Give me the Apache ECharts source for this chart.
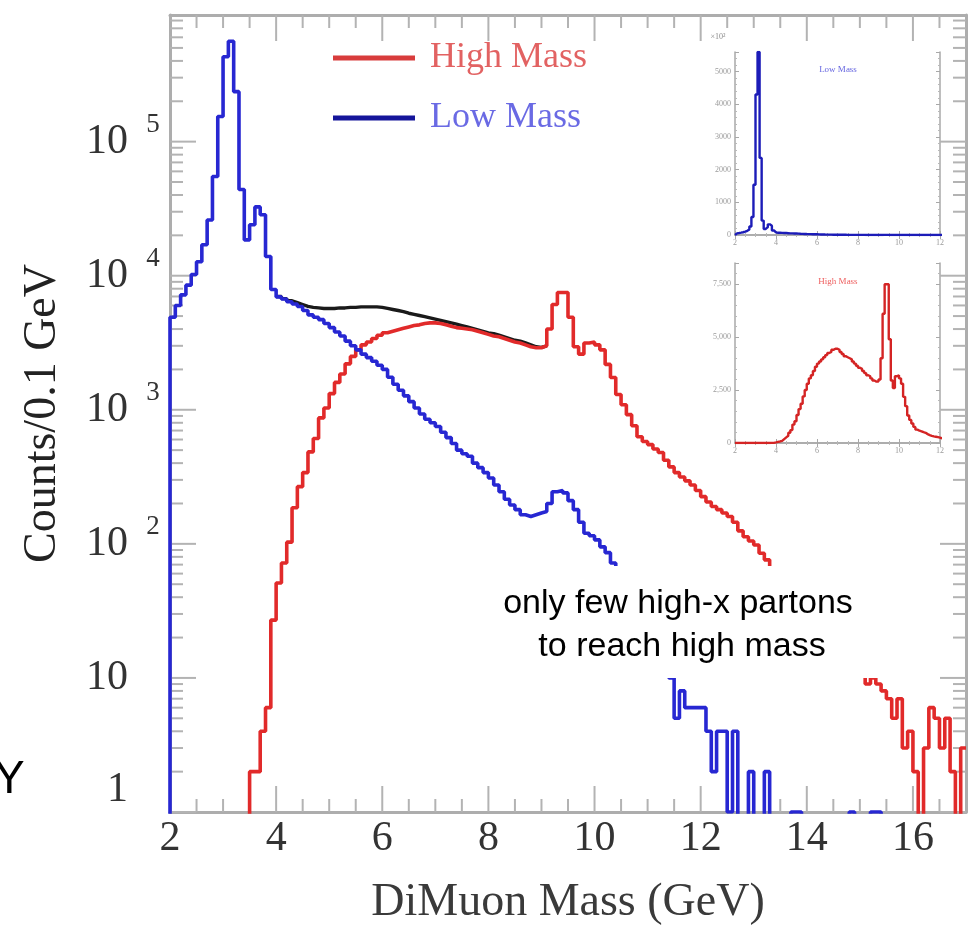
<!DOCTYPE html>
<html><head><meta charset="utf-8">
<script src="https://cdn.jsdelivr.net/npm/echarts@6/dist/echarts.min.js"></script>
<style>html,body{margin:0;padding:0;background:#fff}#c{width:974px;height:931px}</style>
</head><body><div id="c"></div>
<script>
// Bin edges (GeV), 0.1 GeV bins from 2.0 to 17.0
const massEdges = [
 2.0,2.1,2.2,2.3,2.4,2.5,2.6,2.7,2.8,2.9,
 3.0,3.1,3.2,3.3,3.4,3.5,3.6,3.7,3.8,3.9,
 4.0,4.1,4.2,4.3,4.4,4.5,4.6,4.7,4.8,4.9,
 5.0,5.1,5.2,5.3,5.4,5.5,5.6,5.7,5.8,5.9,
 6.0,6.1,6.2,6.3,6.4,6.5,6.6,6.7,6.8,6.9,
 7.0,7.1,7.2,7.3,7.4,7.5,7.6,7.7,7.8,7.9,
 8.0,8.1,8.2,8.3,8.4,8.5,8.6,8.7,8.8,8.9,
 9.0,9.1,9.2,9.3,9.4,9.5,9.6,9.7,9.8,9.9,
 10.0,10.1,10.2,10.3,10.4,10.5,10.6,10.7,10.8,10.9,
 11.0,11.1,11.2,11.3,11.4,11.5,11.6,11.7,11.8,11.9,
 12.0,12.1,12.2,12.3,12.4,12.5,12.6,12.7,12.8,12.9,
 13.0,13.1,13.2,13.3,13.4,13.5,13.6,13.7,13.8,13.9,
 14.0,14.1,14.2,14.3,14.4,14.5,14.6,14.7,14.8,14.9,
 15.0,15.1,15.2,15.3,15.4,15.5,15.6,15.7,15.8,15.9,
 16.0,16.1,16.2,16.3,16.4,16.5,16.6,16.7,16.8,16.9,
 17.0];

// Counts per 0.1 GeV bin (bin i spans massEdges[i]..massEdges[i+1])
const lowMassCounts = [
 4900,6000,7200,8500,10200,12700,17000,26000,55000,154000,
 430000,560000,236000,44000,18500,24000,32600,28500,13900,7900,
 6950,6700,6400,6150,5900,5500,5100,4900,4700,4400,
 4100,3800,3550,3250,3000,2800,2600,2450,2300,2150,
 2000,1750,1550,1400,1270,1150,1030,930,850,800,
 750,680,620,560,500,470,450,400,370,340,
 310,275,245,215,195,180,165,160,165,170,
 174,200,245,250,240,210,180,145,120,115,
 107,95,86,72,60,52,45,40,35,30,
 26,20,15,11,10,5,8,6,6,6,
 6,4,2,4,4,1,4,0,0,2,
 0,0,2,0,0,0,0,1,1,0,
 0,0,0,0,0,0,0,0,1,0,
 0,0,1,1,0,0,0,0,0,0,
 0,0,0,0,0,0,0,0,0,0];

const highMassCounts = [
 0,0,0,0,0,0,0,0,0,0,
 0,0,0,0,0,2,2,4,6,27,
 51,72,103,186,267,340,485,610,870,1030,
 1320,1600,1850,2200,2500,2800,3050,3200,3400,3600,
 3750,3850,3950,4050,4150,4250,4300,4400,4450,4450,
 4400,4300,4200,4100,4050,4000,3950,3850,3750,3650,
 3550,3500,3400,3300,3200,3150,3050,2950,2900,2900,
 3000,4000,6100,7500,7500,4900,2950,2600,3150,3200,
 3050,2800,2180,1740,1300,1090,920,760,630,580,
 550,510,480,420,375,340,315,295,275,250,
 225,205,190,180,170,160,145,125,113,105,
 98,85,76,66,60,55,50,45,40,36,
 32,29,26,24,21,19,17,15,14,12,
 11,9,10,9,8,7,5,7,3,4,
 2,0,3,6,5,3,5,2,0,3];

// Sum (black) where it is visible separately, bins 4.0 .. 9.0
const totalEdges = [
 4.0,4.1,4.2,4.3,4.4,4.5,4.6,4.7,4.8,4.9,
 5.0,5.1,5.2,5.3,5.4,5.5,5.6,5.7,5.8,5.9,
 6.0,6.1,6.2,6.3,6.4,6.5,6.6,6.7,6.8,6.9,
 7.0,7.1,7.2,7.3,7.4,7.5,7.6,7.7,7.8,7.9,
 8.0,8.1,8.2,8.3,8.4,8.5,8.6,8.7,8.8,8.9,
 9.0,9.1];
const totalCounts = [
 7000,6750,6500,6300,6100,5900,5800,5750,5700,5700,
 5700,5750,5750,5800,5800,5850,5850,5850,5850,5800,
 5700,5600,5500,5400,5250,5150,5050,4950,4850,4750,
 4650,4550,4450,4350,4250,4150,4050,3950,3850,3750,
 3700,3600,3500,3400,3300,3250,3150,3050,2950,2920,
 3000];

// Axis tick values
const xMajorTicks = [2,4,6,8,10,12,14,16];
const yMajorTicks = [1,10,100,1000,10000,100000];

const SERIF = "'Liberation Serif','DejaVu Serif',serif";
const SANS = "'Liberation Sans',Arial,sans-serif";
const FLOOR = 0.01; // empty bins fall below the log-axis floor

function histPoints(edges, counts, floorVal) {
  const pts = [[edges[0], floorVal]];
  for (let i = 0; i < counts.length; i++) {
    let v = counts[i];
    if (v <= 0) v = floorVal;
    pts.push([edges[i + 1], v]);
  }
  return pts;
}
function histPointsOpen(edges, counts) {
  const pts = [[edges[0], counts[0]]];
  for (let i = 0; i < counts.length; i++) pts.push([edges[i + 1], counts[i]]);
  return pts;
}

// ticks (axis decoration)
const tickData = [];
for (let v = 2.5; v < 17; v += 0.5) {
  const major = xMajorTicks.indexOf(v) >= 0 ? 1 : 0;
  tickData.push([v, 1, 0, major]);
}
for (let k = 0; k <= 5; k++) {
  for (let m = 1; m <= 9; m++) {
    const v = m * Math.pow(10, k);
    if (v > 880000) continue;
    tickData.push([2, v, 1, yMajorTicks.indexOf(v) >= 0 ? 1 : 0]);
  }
}

function renderTick(params, api) {
  const cs = params.coordSys;
  const kind = api.value(2), major = api.value(3);
  const len = major ? 26 : 13;
  const style = { stroke: '#b3b3b3', lineWidth: 2 };
  if (kind === 0) {
    const px = api.coord([api.value(0), 1])[0];
    return { type: 'group', children: [
      { type: 'line', shape: { x1: px, y1: cs.y + cs.height, x2: px, y2: cs.y + cs.height - len }, style },
      { type: 'line', shape: { x1: px, y1: cs.y, x2: px, y2: cs.y + len }, style }
    ]};
  }
  const py = api.coord([2, api.value(1)])[1];
  return { type: 'group', children: [
    { type: 'line', shape: { x1: cs.x, y1: py, x2: cs.x + len, y2: py }, style },
    { type: 'line', shape: { x1: cs.x + cs.width, y1: py, x2: cs.x + cs.width - len, y2: py }, style }
  ]};
}

const frame = { show: true, lineStyle: { color: '#adadad', width: 3 } };
const insetLine = { show: true, lineStyle: { color: '#a8a8a8', width: 1.5 } };
const insetTick = { show: true, inside: true, length: 4, lineStyle: { color: '#a8a8a8' } };
const insetMinor = { show: true, splitNumber: 4, length: 2, lineStyle: { color: '#b8b8b8' } };
const insetLabel = { fontFamily: SERIF, fontSize: 8, color: '#9a9a9a', margin: 4 };

const chart = echarts.init(document.getElementById('c'), null, { renderer: 'canvas' });
chart.setOption({
  animation: false,
  backgroundColor: '#fff',
  grid: [
    { left: 170, top: 15, width: 796, height: 797 },
    { left: 735, top: 52, width: 205, height: 183 },
    { left: 735, top: 263, width: 205, height: 180 }
  ],
  legend: {
    left: 328, top: 33, orient: 'vertical', icon: 'rect', itemWidth: 82, itemHeight: 5, itemGap: 20,
    selectedMode: false,
    textStyle: { fontFamily: SERIF, fontSize: 36, lineHeight: 40, padding: [0, 0, 0, 10] },
    data: [
      { name: 'High Mass', itemStyle: { color: '#d83c3c' }, textStyle: { color: '#e26262' } },
      { name: 'Low Mass', itemStyle: { color: '#15159a' }, textStyle: { color: '#6a6ae4' } }
    ]
  },
  xAxis: [
    { gridIndex: 0, type: 'value', min: 2, max: 17, interval: 2, position: 'bottom',
      axisLine: frame, axisTick: { show: false }, splitLine: { show: false },
      axisLabel: { fontFamily: SERIF, fontSize: 42, color: '#333', margin: 6, showMaxLabel: false },
      name: 'DiMuon Mass (GeV)', nameLocation: 'middle', nameGap: 68,
      nameTextStyle: { fontFamily: SERIF, fontSize: 46, color: '#3a3a3a' } },
    { gridIndex: 0, type: 'value', min: 2, max: 17, position: 'top',
      axisLine: frame, axisTick: { show: false }, axisLabel: { show: false }, splitLine: { show: false } },
    { gridIndex: 1, type: 'value', min: 2, max: 12, interval: 2, position: 'bottom',
      axisLine: insetLine, axisTick: insetTick, minorTick: insetMinor, splitLine: { show: false },
      axisLabel: insetLabel },
    { gridIndex: 1, type: 'value', min: 2, max: 12, interval: 2, position: 'top',
      axisLine: insetLine, axisTick: insetTick, minorTick: insetMinor, splitLine: { show: false },
      axisLabel: { show: false } },
    { gridIndex: 2, type: 'value', min: 2, max: 12, interval: 2, position: 'bottom',
      axisLine: insetLine, axisTick: insetTick, minorTick: insetMinor, splitLine: { show: false },
      axisLabel: insetLabel },
    { gridIndex: 2, type: 'value', min: 2, max: 12, interval: 2, position: 'top',
      axisLine: insetLine, axisTick: insetTick, minorTick: insetMinor, splitLine: { show: false },
      axisLabel: { show: false } }
  ],
  yAxis: [
    { gridIndex: 0, type: 'log', logBase: 10, min: 1, max: 880000, position: 'left',
      axisLine: frame, axisTick: { show: false }, splitLine: { show: false },
      axisLabel: {
        margin: 6, showMaxLabel: false,
        formatter: function (v) {
          const e = Math.round(Math.log10(v));
          if (e === 0) return '{one|1}{e| }';
          if (e === 1) return '{b|10}{e| }';
          return '{b|10}{e|' + e + '}';
        },
        rich: {
          b: { fontFamily: SERIF, fontSize: 42, color: '#333', lineHeight: 44 },
          one: { fontFamily: SERIF, fontSize: 42, color: '#333', lineHeight: 44, padding: [0, 0, 44, 0] },
          e: { fontFamily: SERIF, fontSize: 27, color: '#333', width: 22, align: 'left', padding: [0, 0, 34, 14] }
        }
      },
      name: 'Counts/0.1 GeV', nameLocation: 'middle', nameGap: 104, nameRotate: 90,
      nameTextStyle: { fontFamily: SERIF, fontSize: 46, color: '#222' } },
    { gridIndex: 0, type: 'log', logBase: 10, min: 1, max: 880000, position: 'right',
      axisLine: frame, axisTick: { show: false }, axisLabel: { show: false }, splitLine: { show: false } },
    { gridIndex: 1, type: 'value', min: 0, max: 560000, interval: 100000, position: 'left',
      axisLine: insetLine, axisTick: insetTick, minorTick: { show: true, splitNumber: 5, length: 2, lineStyle: { color: '#b8b8b8' } },
      splitLine: { show: false },
      axisLabel: Object.assign({}, insetLabel, { showMaxLabel: false, formatter: v => v === 0 ? '0' : String(v / 100) }) },
    { gridIndex: 1, type: 'value', min: 0, max: 560000, interval: 100000, position: 'right',
      axisLine: insetLine, axisTick: insetTick, minorTick: { show: true, splitNumber: 5, length: 2, lineStyle: { color: '#b8b8b8' } },
      splitLine: { show: false }, axisLabel: { show: false } },
    { gridIndex: 2, type: 'value', min: 0, max: 8500, interval: 2500, position: 'left',
      axisLine: insetLine, axisTick: insetTick, minorTick: { show: true, splitNumber: 5, length: 2, lineStyle: { color: '#b8b8b8' } },
      splitLine: { show: false },
      axisLabel: Object.assign({}, insetLabel, { showMaxLabel: false }) },
    { gridIndex: 2, type: 'value', min: 0, max: 8500, interval: 2500, position: 'right',
      axisLine: insetLine, axisTick: insetTick, minorTick: { show: true, splitNumber: 5, length: 2, lineStyle: { color: '#b8b8b8' } },
      splitLine: { show: false }, axisLabel: { show: false } }
  ],
  series: [
    { type: 'custom', name: 'ticks', xAxisIndex: 0, yAxisIndex: 0, silent: true, z: 1,
      renderItem: renderTick, data: tickData },
    { type: 'line', name: 'Total', xAxisIndex: 0, yAxisIndex: 0, step: 'start', symbol: 'none',
      lineStyle: { color: '#1a1a1a', width: 3.4 }, itemStyle: { color: '#1a1a1a' }, z: 2,
      data: histPointsOpen(totalEdges, totalCounts) },
    { type: 'line', name: 'High Mass', xAxisIndex: 0, yAxisIndex: 0, step: 'start', symbol: 'none',
      lineStyle: { color: '#e12a2a', width: 3.6 }, itemStyle: { color: '#e12a2a' }, z: 3,
      data: histPoints(massEdges, highMassCounts, FLOOR) },
    { type: 'line', name: 'Low Mass', xAxisIndex: 0, yAxisIndex: 0, step: 'start', symbol: 'none',
      lineStyle: { color: '#2727d2', width: 3.6 }, itemStyle: { color: '#2727d2' }, z: 4,
      data: histPoints(massEdges, lowMassCounts, FLOOR) },
    { type: 'line', name: 'Low Mass inset', xAxisIndex: 2, yAxisIndex: 2, step: 'start', symbol: 'none',
      lineStyle: { color: '#1c1cb8', width: 2.4 }, z: 4,
      data: histPoints(massEdges, lowMassCounts, 0) },
    { type: 'line', name: 'High Mass inset', xAxisIndex: 4, yAxisIndex: 4, step: 'start', symbol: 'none',
      lineStyle: { color: '#d42424', width: 2.4 }, z: 4,
      data: histPoints(massEdges, highMassCounts, 0) }
  ],
  graphic: [
    { type: 'rect', z: 100, shape: { x: 470, y: 566, width: 470, height: 112 }, style: { fill: '#ffffff' } },
    { type: 'text', z: 101, x: 678, y: 604, style: { text: 'only few high-x partons', font: '34px ' + SANS, fill: '#000', textAlign: 'center', textVerticalAlign: 'middle' } },
    { type: 'text', z: 101, x: 682, y: 647, style: { text: 'to reach high mass', font: '34px ' + SANS, fill: '#000', textAlign: 'center', textVerticalAlign: 'middle' } },
    { type: 'text', z: 101, x: -6, y: 780, style: { text: 'Y', font: '46px ' + SANS, fill: '#000', textAlign: 'left', textVerticalAlign: 'middle' } },
    { type: 'text', z: 101, x: 838, y: 70, style: { text: 'Low Mass', font: '9px ' + SERIF, fill: '#6666e0', textAlign: 'center', textVerticalAlign: 'middle' } },
    { type: 'text', z: 101, x: 838, y: 282, style: { text: 'High Mass', font: '9px ' + SERIF, fill: '#ee6060', textAlign: 'center', textVerticalAlign: 'middle' } },
    { type: 'text', z: 101, x: 718, y: 37, style: { text: '×10²', font: '8px ' + SERIF, fill: '#8a8a8a', textAlign: 'center', textVerticalAlign: 'middle' } }
  ]
});
</script>
</body></html>
